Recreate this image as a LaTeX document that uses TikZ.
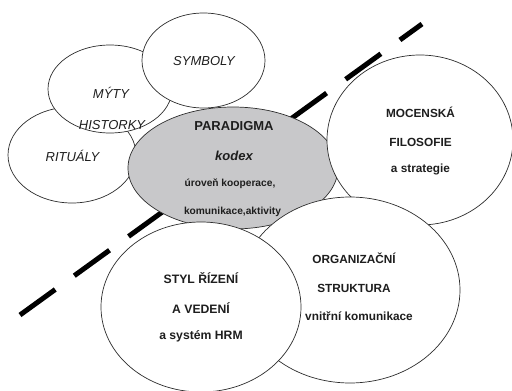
\documentclass[tikz,border=0pt]{standalone}
\usepackage{fontspec}
\setmainfont{Liberation Sans}
\usetikzlibrary{shapes.geometric}
\definecolor{outline}{RGB}{45,45,45}
\definecolor{parafill}{RGB}{200,200,202}
\definecolor{txt}{RGB}{30,30,30}
\tikzset{
  bubble/.style={ellipse, draw=outline, line width=0.7pt, fill=white, inner sep=0pt, outer sep=0pt},
  grayb/.style={bubble, fill=parafill},
  lbl/.style={anchor=base, inner sep=0pt, text=txt},
  ital/.style={lbl, font=\fontsize{13}{15}\selectfont\itshape},
  bbig/.style={lbl, font=\fontsize{13}{15}\selectfont\bfseries},
  bbigit/.style={lbl, font=\fontsize{13}{15}\selectfont\bfseries\itshape},
  bsmall/.style={lbl, font=\fontsize{10.2}{12}\selectfont\bfseries},
  bmid/.style={lbl, font=\fontsize{11.8}{14}\selectfont\bfseries},
  bstyl/.style={lbl, font=\fontsize{12.2}{14}\selectfont\bfseries},
  divider/.style={line width=5pt, dash pattern=on 43.5pt off 23.5pt, black}
}
\begin{document}
\begin{tikzpicture}[x=1pt,y=-1pt]
\useasboundingbox (0,0) rectangle (512,391);
% background bubbles
\node[bubble, minimum width=128pt, minimum height=96pt] (rit) at (72,155) {};
\node[bubble, minimum width=124pt, minimum height=88pt] (myty) at (110,89) {};
\node[bubble, minimum width=123pt, minimum height=95pt] (sym) at (203.5,60.5) {};
% dashed divider
\coordinate (dA) at (20,315);
\coordinate (dB) at (422,24);
\draw[divider] (dA) -- (dB);
% main bubbles
\node[grayb, minimum width=210pt, minimum height=122pt] (para) at (233,168) {};
\node[bubble, minimum width=186pt, minimum height=170pt] (moc) at (420,140) {};
\node[bubble, minimum width=220pt, minimum height=186pt] (org) at (350,290) {};
\node[bubble, minimum width=200pt, minimum height=170pt] (styl) at (201,307) {};
% labels
\node[ital] (tsym) at (204,65.5) {SYMBOLY};
\node[ital] (tmyty) at (111,98) {MÝTY};
\node[ital] (thist) at (112,129) {HISTORKY};
\node[ital] (trit) at (72.5,161) {RITUÁLY};
\node[bbig] (tpara) at (234,130) {PARADIGMA};
\node[bbigit] (tkod) at (234,160) {kodex};
\node[bsmall] (tur) at (230,186) {úroveň kooperace,};
\node[bsmall] (tkom) at (232.5,214) {komunikace,aktivity};
\node[bmid] (tm1) at (420.5,117) {MOCENSKÁ};
\node[bmid] (tm2) at (420.5,146) {FILOSOFIE};
\node[bmid] (tm3) at (420.5,172) {a strategie};
\node[bstyl] (ts1) at (201,283) {STYL ŘÍZENÍ};
\node[bstyl] (ts2) at (201,313) {A VEDENÍ};
\node[bstyl] (ts3) at (201,339) {a systém HRM};
\node[bmid] (to1) at (354,263) {ORGANIZAČNÍ};
\node[bmid] (to2) at (354,292) {STRUKTURA};
\node[bmid] (to3) at (359,320) {vnitřní komunikace};
\end{tikzpicture}
\end{document}
